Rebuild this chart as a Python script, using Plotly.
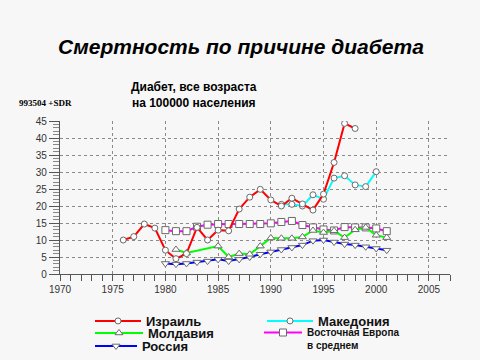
import plotly.graph_objects as go

# ---- data ----
israel_years = list(range(1976, 1999))
israel_vals = [10.0, 11.0, 14.7, 13.5, 7.0, 4.5, 6.0, 13.7, 10.0, 12.9, 12.7, 19.1,
               22.6, 24.9, 21.8, 20.0, 22.3, 20.6, 18.8, 23.5, 32.8, 44.3, 42.8]

macedonia_years = list(range(1991, 2001))
macedonia_vals = [20.5, 20.5, 20.0, 23.3, 22.0, 28.2, 28.9, 26.2, 25.7, 30.1]

moldova_years = [1981, 1982, 1985, 1986, 1987, 1988, 1989, 1990, 1991, 1992, 1993,
                 1994, 1995, 1996, 1997, 1998, 1999, 2000, 2001]
moldova_vals = [7.2, 6.2, 8.2, 5.0, 6.0, 5.8, 8.2, 10.6, 10.5, 10.5, 10.9,
                12.8, 12.2, 12.7, 10.7, 13.0, 13.7, 11.4, 10.7]

eeurope_years = list(range(1980, 2002))
eeurope_vals = [12.9, 12.6, 12.6, 13.9, 14.5, 14.7, 14.7, 14.7, 14.7, 14.7, 14.9,
                15.3, 15.6, 14.4, 13.7, 13.1, 12.8, 13.8, 13.7, 13.7, 13.4, 12.6]

russia_years = list(range(1980, 2002))
russia_vals = [3.1, 2.9, 3.1, 3.5, 3.8, 4.3, 3.8, 4.3, 5.0, 5.8, 6.5,
               7.2, 7.8, 8.5, 9.8, 10.0, 9.4, 8.8, 8.5, 8.0, 7.5, 7.0]

x_ticks = [1970, 1975, 1980, 1985, 1990, 1995, 2000, 2005]
y_ticks = [0, 5, 10, 15, 20, 25, 30, 35, 40, 45]

title_text = "<b><i>Смертность по причине диабета</i></b>"
subtitle_text = "<b>Диабет, все возраста<br>на 100000 населения</b>"
code_text = "<b>993504 +SDR</b>"

# ---- geometry helpers (pixels -> paper) ----
W, H = 480, 360
ML, MR, MT, MB = 60, 30, 121, 86
PW, PH = W - ML - MR, H - MT - MB


def px(x):
    return (x - ML) / PW


def py(y):
    return (H - MB - y) / PH


BG = "#f7f7f7"
mk_line = dict(color="#6a6a6a", width=1)

fig = go.Figure()


def add(name, xs, ys, color, symbol, size, legend):
    fig.add_trace(go.Scatter(
        x=xs, y=ys, name=name, mode="lines+markers",
        line=dict(color=color, width=2),
        marker=dict(symbol=symbol, size=size, color="white", line=mk_line),
        legend=legend, showlegend=True,
    ))


add("<b>Восточная Европа<br>в среднем</b>", eeurope_years, eeurope_vals, "#ff00ff", "square", 7, "legend5")
add("<b>Россия</b>", russia_years, russia_vals, "#0000ff", "triangle-down", 7, "legend3")
add("<b>Молдавия</b>", moldova_years, moldova_vals, "#00ff00", "triangle-up", 7, "legend2")
add("<b>Македония</b>", macedonia_years, macedonia_vals, "#00ffff", "circle", 6, "legend4")
add("<b>Израиль</b>", israel_years, israel_vals, "#ff0000", "circle", 6, "legend")


def leg(xp, yp, size, width):
    return dict(x=px(xp), y=py(yp), xanchor="left", yanchor="middle",
                bgcolor="rgba(0,0,0,0)", borderwidth=0,
                font=dict(family="Liberation Sans, Arial", size=size, color="#111"),
                itemwidth=width, valign="top", itemclick=False)


fig.update_layout(
    width=W, height=H,
    paper_bgcolor=BG, plot_bgcolor=BG,
    margin=dict(l=ML, r=MR, t=MT, b=MB, autoexpand=False),
    font=dict(family="Liberation Sans, Arial", color="#333"),
    legend=leg(90, 321, 13, 46),
    legend2=leg(90, 333, 13, 48),
    legend3=leg(90, 346, 13, 42),
    legend4=leg(262, 321, 13, 46),
    legend5=leg(259, 339, 10, 38),
    xaxis=dict(
        range=[1970, 2007], tickvals=x_ticks, showgrid=True,
        gridcolor="#8a8a8a", griddash="dot", gridwidth=1,
        showline=True, linecolor="#555", linewidth=1.3,
        ticks="outside", ticklen=6, tickcolor="#555",
        tickfont=dict(size=10, color="#333"),
        minor=dict(dtick=1, ticks="outside", ticklen=6, tickcolor="#555", showgrid=False),
        zeroline=False,
    ),
    yaxis=dict(
        range=[0, 45], tickvals=y_ticks, showgrid=True,
        gridcolor="#8a8a8a", griddash="dot", gridwidth=1,
        showline=True, linecolor="#555", linewidth=1.3,
        ticks="outside", ticklen=10, tickcolor="#555",
        tickfont=dict(size=10, color="#333"),
        minor=dict(dtick=1, ticks="outside", ticklen=6, tickcolor="#888", showgrid=False),
        zeroline=False,
    ),
    annotations=[
        dict(text=title_text, xref="paper", yref="paper", x=px(241), y=py(46),
             xanchor="center", yanchor="middle", showarrow=False,
             font=dict(size=21, color="#000", family="Liberation Sans, Arial")),
        dict(text=subtitle_text, xref="paper", yref="paper", x=px(194), y=py(94.5),
             xanchor="center", yanchor="middle", showarrow=False,
             font=dict(size=12, color="#000", family="Liberation Sans, Arial")),
        dict(text=code_text, xref="paper", yref="paper", x=px(17), y=py(103),
             xanchor="left", yanchor="middle", showarrow=False,
             font=dict(size=9, color="#000", family="Liberation Serif, Times New Roman")),
    ],
)

fig.write_html(
    "out.html",
    config={"displayModeBar": False},
    post_script="document.body.style.margin='0';document.body.style.background='%s';" % BG,
)
